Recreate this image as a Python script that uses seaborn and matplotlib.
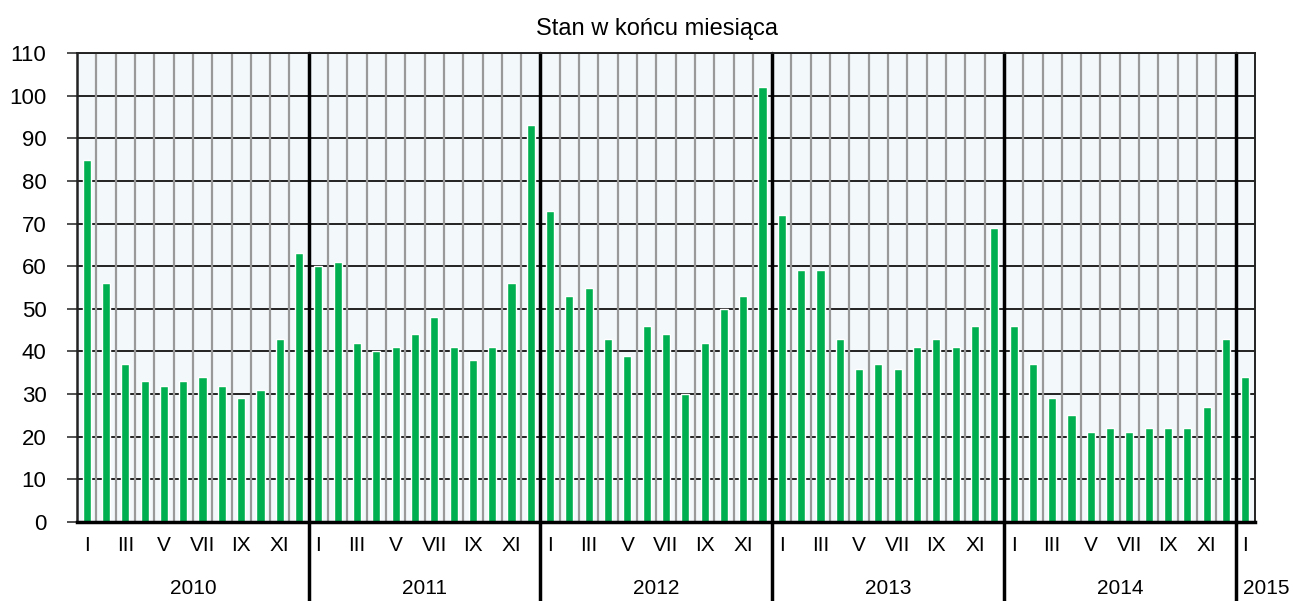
import pandas as pd
import matplotlib.pyplot as plt
import seaborn as sns

# month-end values, Jan 2010 .. Jan 2015
y2010 = [85, 56, 37, 33, 32, 33, 34, 32, 29, 31, 43, 63]
y2011 = [60, 61, 42, 40, 41, 44, 48, 41, 38, 41, 56, 93]
y2012 = [73, 53, 55, 43, 39, 46, 44, 30, 42, 50, 53, 102]
y2013 = [72, 59, 59, 43, 36, 37, 36, 41, 43, 41, 46, 69]
y2014 = [46, 37, 29, 25, 21, 22, 21, 22, 22, 22, 27, 43]
y2015 = [34]
years = ["2010", "2011", "2012", "2013", "2014", "2015"]
months = ["I", "II", "III", "IV", "V", "VI", "VII", "VIII", "IX", "X", "XI", "XII"]
title = "Stan w końcu miesiąca"

values = y2010 + y2011 + y2012 + y2013 + y2014 + y2015
df = pd.DataFrame({"idx": range(len(values)), "value": values})

sns.set_theme(style="white")
plt.rcParams["font.family"] = ["Liberation Sans", "DejaVu Sans"]
plt.rcParams["text.color"] = "black"
plt.rcParams["xtick.color"] = "black"
plt.rcParams["ytick.color"] = "black"

fig = plt.figure(figsize=(13.01, 6.01), dpi=100)
ax = fig.add_axes([0.0592, 0.1314, 0.9054, 0.7804])
ax.set_facecolor("#F3F8FB")

sns.barplot(data=df, x="idx", y="value", color="#00B050", width=0.42,
            saturation=1, ax=ax, zorder=3)

n = len(values)
ax.set_xlim(-0.5, n - 0.5)
ax.set_ylim(0, 110)
ax.set_yticks(range(0, 111, 10))
ax.tick_params(axis="y", labelsize=16, length=7, width=1.2, color="#333333",
               labelcolor="black", direction="out", pad=15, left=True)

# horizontal grid
for v in range(10, 111, 10):
    ax.axhline(v, color="#222222", lw=1.4, zorder=1)

# monthly vertical grid
for i in range(n - 1):
    if (i + 1) % 12 != 0:
        ax.axvline(i + 0.5, color="#999999", lw=1.6, zorder=1)

# roman month labels (every other month)
ticks = [i for i in range(n) if (i % 12) % 2 == 0]
ax.set_xticks(ticks)
ax.set_xticklabels([months[i % 12] for i in ticks], fontsize=15)
ax.tick_params(axis="x", length=0, pad=10, labelcolor="black")
ax.set_xlabel("")
ax.set_ylabel("")

# year separators and year labels
trans = ax.get_xaxis_transform()
for k in range(1, len(years)):
    x = 12 * k - 0.5
    ax.plot([x, x], [1, -0.2], transform=trans, color="black", lw=2.5,
            clip_on=False, zorder=5)
for k, yr in enumerate(years[:-1]):
    ax.text(12 * k + 5.5, -0.141, yr, transform=trans, ha="center",
            va="center", fontsize=15, color="black")
ax.text(12 * 5 - 0.1, -0.141, years[-1], transform=trans, ha="left",
        va="center", fontsize=15, color="black")

for side in ["left", "right", "top", "bottom"]:
    ax.spines[side].set_visible(True)
    ax.spines[side].set_color("#222222")
    ax.spines[side].set_zorder(6)
ax.spines["left"].set_linewidth(1.8)
ax.spines["right"].set_linewidth(1.4)
ax.spines["top"].set_linewidth(1.4)
ax.spines["bottom"].set_linewidth(2.5)
ax.spines["bottom"].set_color("black")

fig.text(0.505, 0.951, title, ha="center", va="center", fontsize=17,
         color="black")

fig.savefig("out.png", dpi=100)
